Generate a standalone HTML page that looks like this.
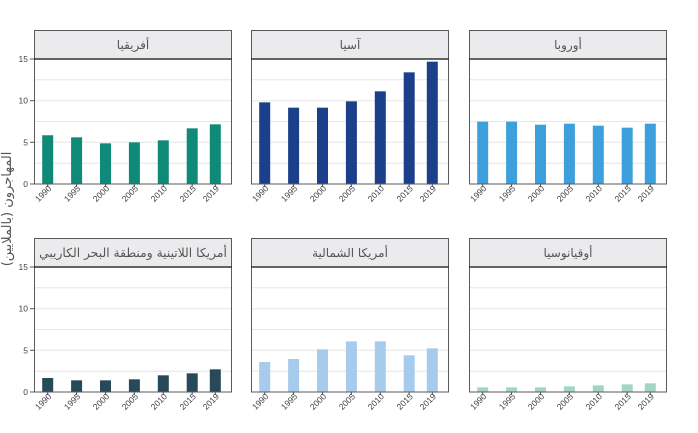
<!DOCTYPE html>
<html><head><meta charset="utf-8"><style>
html,body{margin:0;padding:0;background:#fff;}
svg{display:block;}
text{font-family:"Liberation Sans","DejaVu Sans",sans-serif;}
.t{font-size:8.5px;fill:#444;}
.h{font-size:12px;fill:#555;font-family:"DejaVu Sans","Liberation Sans",sans-serif;}
.g{stroke:#e6e6e6;stroke-width:1;}
</style></head><body>
<svg width="698" height="433" viewBox="0 0 698 433" xmlns="http://www.w3.org/2000/svg">
<defs>
<g id="frame">
  <rect x="0" y="29" width="198" height="125" fill="#fff"/>
  <line class="g" x1="0" x2="198" y1="133.2" y2="133.2"/>
  <line class="g" x1="0" x2="198" y1="112.3" y2="112.3"/>
  <line class="g" x1="0" x2="198" y1="91.5" y2="91.5"/>
  <line class="g" x1="0" x2="198" y1="70.7" y2="70.7"/>
  <line class="g" x1="0" x2="198" y1="49.8" y2="49.8"/>
  <rect x="0" y="0" width="198" height="29" fill="#ebebed"/>
</g>
<g id="border">
  <rect x="0.5" y="0.5" width="197" height="153.5" fill="none" stroke="#5a5a5a" stroke-width="1"/>
  <line x1="0" x2="198" y1="29" y2="29" stroke="#333" stroke-width="1.6"/>
  <g stroke="#555" stroke-width="1">
    <line x1="13.7" x2="13.7" y1="154" y2="157"/>
    <line x1="42.6" x2="42.6" y1="154" y2="157"/>
    <line x1="71.5" x2="71.5" y1="154" y2="157"/>
    <line x1="100.4" x2="100.4" y1="154" y2="157"/>
    <line x1="129.3" x2="129.3" y1="154" y2="157"/>
    <line x1="158.2" x2="158.2" y1="154" y2="157"/>
    <line x1="181.3" x2="181.3" y1="154" y2="157"/>
  </g>
  <g class="t" text-anchor="end">
    <text transform="translate(18,159) rotate(-45)">1990</text>
    <text transform="translate(46.9,159) rotate(-45)">1995</text>
    <text transform="translate(75.8,159) rotate(-45)">2000</text>
    <text transform="translate(104.7,159) rotate(-45)">2005</text>
    <text transform="translate(133.6,159) rotate(-45)">2010</text>
    <text transform="translate(162.5,159) rotate(-45)">2015</text>
    <text transform="translate(185.6,159) rotate(-45)">2019</text>
  </g>
</g>
<g id="yaxis">
  <g stroke="#555" stroke-width="1">
    <line x1="-4" x2="0" y1="154" y2="154"/>
    <line x1="-4" x2="0" y1="112.3" y2="112.3"/>
    <line x1="-4" x2="0" y1="70.7" y2="70.7"/>
    <line x1="-4" x2="0" y1="29" y2="29"/>
  </g>
  <g class="t" text-anchor="end">
    <text x="-6" y="157">0</text>
    <text x="-6" y="115.3">5</text>
    <text x="-6" y="73.7">10</text>
    <text x="-6" y="32">15</text>
  </g>
</g>
</defs>

<text class="h" transform="translate(11,209) rotate(-90)" text-anchor="middle" style="font-size:13px">المهاجرون (بالملايين)</text>

<!-- Africa -->
<g transform="translate(34,30)">
  <use href="#frame"/>
  <g fill="#0f8a78">
    <rect x="8.2" y="105.25" width="11" height="48.75"/>
    <rect x="37.1" y="107.33" width="11" height="46.67"/>
    <rect x="66" y="113.33" width="11" height="40.67"/>
    <rect x="94.9" y="112.33" width="11" height="41.67"/>
    <rect x="123.8" y="110.33" width="11" height="43.67"/>
    <rect x="152.7" y="98.33" width="11" height="55.67"/>
    <rect x="175.8" y="94.33" width="11" height="59.67"/>
  </g>
  <use href="#border"/>
  <use href="#yaxis"/>
  <text class="h" x="99" y="19" text-anchor="middle">أفريقيا</text>
</g>

<!-- Asia -->
<g transform="translate(251,30)">
  <use href="#frame"/>
  <g fill="#1c3f8c">
    <rect x="8.2" y="72.33" width="11" height="81.67"/>
    <rect x="37.1" y="77.67" width="11" height="76.33"/>
    <rect x="66" y="77.67" width="11" height="76.33"/>
    <rect x="94.9" y="71.33" width="11" height="82.67"/>
    <rect x="123.8" y="61.33" width="11" height="92.67"/>
    <rect x="152.7" y="42.33" width="11" height="111.67"/>
    <rect x="175.8" y="31.67" width="11" height="122.33"/>
  </g>
  <use href="#border"/>
  <text class="h" x="99" y="19" text-anchor="middle">آسيا</text>
</g>

<!-- Europe -->
<g transform="translate(469,30)">
  <use href="#frame"/>
  <g fill="#3d9fdb">
    <rect x="8.2" y="91.67" width="11" height="62.33"/>
    <rect x="37.1" y="91.67" width="11" height="62.33"/>
    <rect x="66" y="94.67" width="11" height="59.33"/>
    <rect x="94.9" y="93.67" width="11" height="60.33"/>
    <rect x="123.8" y="95.67" width="11" height="58.33"/>
    <rect x="152.7" y="97.67" width="11" height="56.33"/>
    <rect x="175.8" y="93.67" width="11" height="60.33"/>
  </g>
  <use href="#border"/>
  <text class="h" x="99" y="19" text-anchor="middle">أوروبا</text>
</g>

<!-- Latin America -->
<g transform="translate(34,238)">
  <use href="#frame"/>
  <g fill="#28495a">
    <rect x="8.2" y="140" width="11" height="14"/>
    <rect x="37.1" y="142.33" width="11" height="11.67"/>
    <rect x="66" y="142.33" width="11" height="11.67"/>
    <rect x="94.9" y="141.33" width="11" height="12.67"/>
    <rect x="123.8" y="137.33" width="11" height="16.67"/>
    <rect x="152.7" y="135.33" width="11" height="18.67"/>
    <rect x="175.8" y="131.33" width="11" height="22.67"/>
  </g>
  <use href="#border"/>
  <use href="#yaxis"/>
  <text class="h" x="99" y="19" text-anchor="middle" style="font-size:12.3px">أمريكا اللاتينية ومنطقة البحر الكاريبي</text>
</g>

<!-- North America -->
<g transform="translate(251,238)">
  <use href="#frame"/>
  <g fill="#a6cbec">
    <rect x="8.2" y="124" width="11" height="30"/>
    <rect x="37.1" y="121" width="11" height="33"/>
    <rect x="66" y="111.33" width="11" height="42.67"/>
    <rect x="94.9" y="103.33" width="11" height="50.67"/>
    <rect x="123.8" y="103.33" width="11" height="50.67"/>
    <rect x="152.7" y="117.33" width="11" height="36.67"/>
    <rect x="175.8" y="110.33" width="11" height="43.67"/>
  </g>
  <use href="#border"/>
  <text class="h" x="99" y="19" text-anchor="middle">أمريكا الشمالية</text>
</g>

<!-- Oceania -->
<g transform="translate(469,238)">
  <use href="#frame"/>
  <g fill="#a3d6c1">
    <rect x="8.2" y="149.33" width="11" height="4.67"/>
    <rect x="37.1" y="149.33" width="11" height="4.67"/>
    <rect x="66" y="149.33" width="11" height="4.67"/>
    <rect x="94.9" y="148.33" width="11" height="5.67"/>
    <rect x="123.8" y="147.33" width="11" height="6.67"/>
    <rect x="152.7" y="146.33" width="11" height="7.67"/>
    <rect x="175.8" y="145.33" width="11" height="8.67"/>
  </g>
  <use href="#border"/>
  <text class="h" x="99" y="19" text-anchor="middle">أوقيانوسيا</text>
</g>
</svg>
</body></html>
